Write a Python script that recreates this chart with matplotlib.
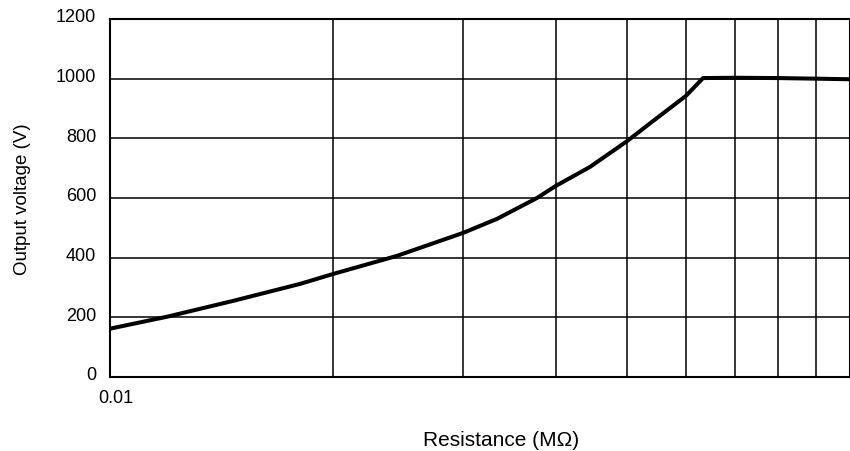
import matplotlib.pyplot as plt
from matplotlib.ticker import FixedLocator, NullLocator
import matplotlib.transforms as mtransforms

plt.rcParams['font.family'] = ['Liberation Sans', 'DejaVu Sans']

# output voltage vs. load resistance
resistance = [0.01, 0.01194, 0.01466, 0.01806, 0.02, 0.02442, 0.03, 0.03334,
              0.03776, 0.04, 0.04452, 0.05, 0.05418, 0.06, 0.0633, 0.07,
              0.08, 0.09, 0.1]
voltage = [162, 202, 255, 312, 345, 406, 483, 530,
           600, 640, 704, 791, 858, 942, 1002, 1003,
           1002, 1000, 998]

x_ticks = [0.01, 0.1]
x_tick_labels = ['0.01', '1']
y_ticks = [0, 200, 400, 600, 800, 1000, 1200]
x_grid = [0.02, 0.03, 0.04, 0.05, 0.06, 0.07, 0.08, 0.09]

fig = plt.figure(figsize=(8.5, 4.52), dpi=100)
ax = fig.add_axes([110 / 850, 1 - 378 / 452, 740 / 850, 358 / 452])

ax.set_xscale('log')
ax.set_xlim(0.01, 0.1)
ax.set_ylim(0, 1200)

for x in x_grid:
    ax.axvline(x, color='black', lw=1.1, zorder=1)
for y in y_ticks[1:-1]:
    ax.axhline(y, color='black', lw=1.1, zorder=1)

ax.plot(resistance, voltage, color='black', lw=2.9, zorder=3,
        solid_joinstyle='round')

ax.xaxis.set_major_locator(FixedLocator(x_ticks))
ax.xaxis.set_minor_locator(NullLocator())
ax.set_xticklabels(x_tick_labels)
ax.set_yticks(y_ticks)
ax.tick_params(axis='both', length=0, labelsize=13)
ax.tick_params(axis='y', pad=10)
ax.tick_params(axis='x', pad=9)

# nudge tick labels a little
for lbl in ax.get_yticklabels():
    lbl.set_transform(lbl.get_transform() +
                      mtransforms.ScaledTranslation(0, 3 / 72, fig.dpi_scale_trans))
for lbl in ax.get_xticklabels():
    lbl.set_transform(lbl.get_transform() +
                      mtransforms.ScaledTranslation(4 / 72, 0, fig.dpi_scale_trans))

for s in ax.spines.values():
    s.set_linewidth(1.5)
    s.set_color('black')

ax.set_xlabel('Resistance (MΩ)', fontsize=15)
ax.xaxis.set_label_coords(0.528, -0.148)
ax.set_ylabel('Output voltage (V)', fontsize=13.5, labelpad=18)

fig.savefig('out.png', dpi=100)
